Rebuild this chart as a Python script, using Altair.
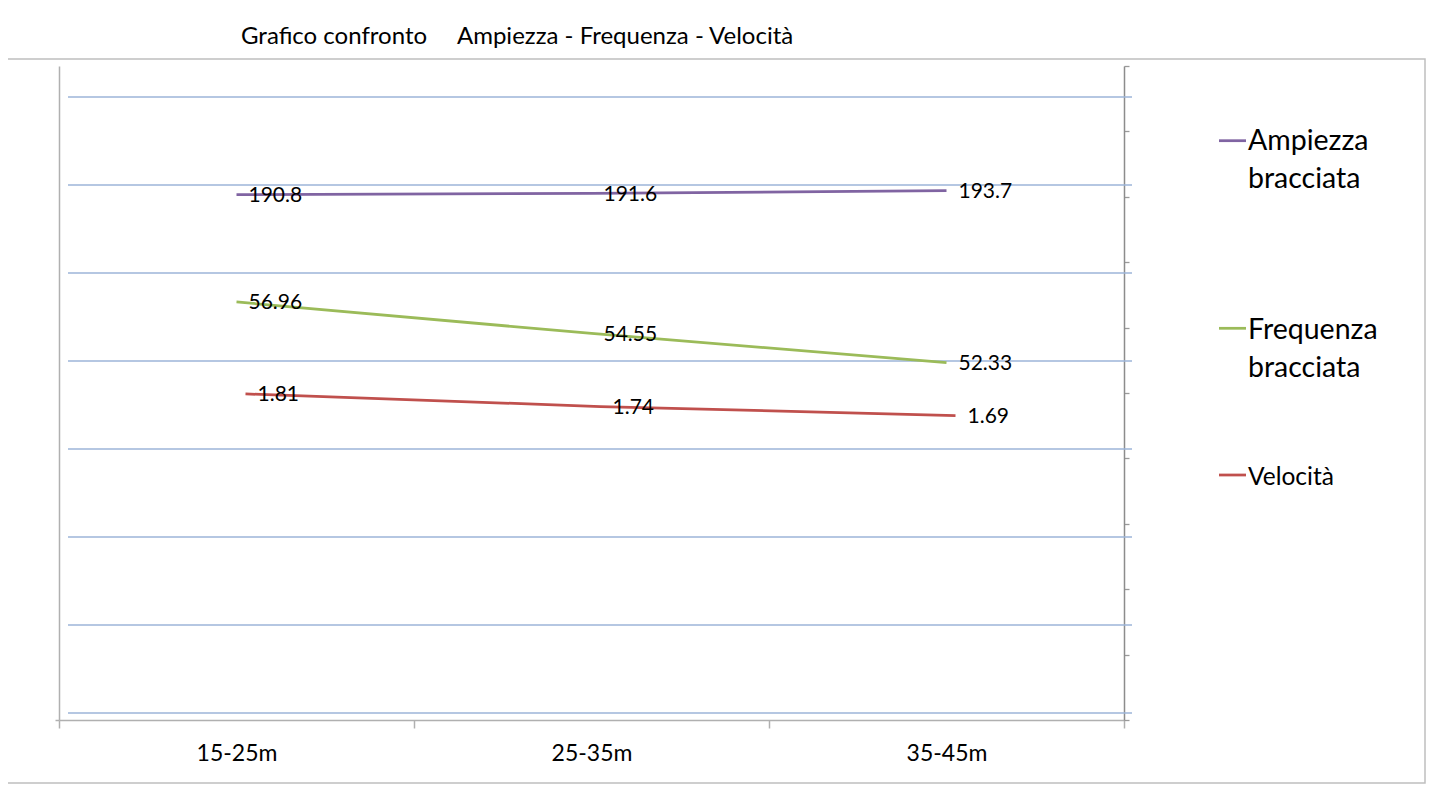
import altair as alt
import pandas as pd

# ---------------- data ----------------
categories = ["15-25m", "25-35m", "35-45m"]
ampiezza = [190.8, 191.6, 193.7]
frequenza = [56.96, 54.55, 52.33]
velocita = [1.81, 1.74, 1.69]
series_names = ["Ampiezza bracciata", "Frequenza bracciata", "Velocità"]
legend_lines = [["Ampiezza", "bracciata"], ["Frequenza", "bracciata"], ["Velocità"]]
title_text = "Grafico confronto\u00a0\u00a0\u00a0\u00a0\u00a0Ampiezza - Frequenza - Velocità"
grid_values = [0, 1, 2, 3, 4, 5, 6, 7]
right_ticks = [0, 1, 2, 3, 4, 5, 6, 7, 8, 9, 10]

# ---------------- layout / style ----------------
W, H = 1065, 654
FONT = "Lato"
PURPLE, GREEN, RED = "#8064A2", "#9BBB59", "#C0504D"
GRID = "#9db5d9"
AXIS = "#b0b0b0"

df = pd.DataFrame({
    "Distanza": categories,
    "Ampiezza": ampiezza,
    "Frequenza": frequenza,
    "Velocita": velocita,
})
one = pd.DataFrame({"k": [0]})

x_enc = alt.X(
    "Distanza:N", sort=categories,
    scale=alt.Scale(type="band", paddingInner=0, paddingOuter=0),
    axis=alt.Axis(title=None, tickBand="extent", tickSize=8, tickColor=AXIS,
                  tickWidth=1.5, domainColor=AXIS, domainWidth=1.5, grid=False,
                  labelFont=FONT, labelFontSize=23, labelColor="black",
                  labelPadding=14, labelAngle=0),
)

# outer frame
frame = alt.Chart(one).mark_rect(fill=None, stroke="#bfbfbf", strokeWidth=1.5).encode(
    x=alt.value(-56), x2=alt.value(1366), y=alt.value(-7), y2=alt.value(717)
)

# gridlines (secondary plot area, shifted slightly)
grid_df = pd.DataFrame({"g": grid_values})
grid = alt.Chart(grid_df).mark_rule(color=GRID, strokeWidth=1.4).encode(
    x=alt.value(9), x2=alt.value(1073),
    y=alt.Y("g:Q", scale=alt.Scale(domain=[-0.08, 7.352], nice=False, zero=False), axis=None),
)

tick_df = pd.DataFrame({"t": right_ticks})
left_axis = alt.Chart(tick_df).mark_point(opacity=0).encode(
    x=alt.value(0),
    y=alt.Y("t:Q", scale=alt.Scale(domain=[0, 10], nice=False),
            axis=alt.Axis(orient="left", values=[0], labels=False, title=None, grid=False,
                          tickSize=4, tickColor=AXIS, tickWidth=1.5,
                          domainColor=AXIS, domainWidth=1.5)),
)
right_axis = alt.Chart(tick_df).mark_point(opacity=0).encode(
    x=alt.value(W),
    y=alt.Y("t:Q", scale=alt.Scale(domain=[0, 10], nice=False),
            axis=alt.Axis(orient="right", values=right_ticks, labels=False, title=None,
                          grid=False, tickSize=5, tickColor="#9a9a9a", tickWidth=1.3,
                          domainColor="#8c8c8c", domainWidth=1.5)),
)


def series(field, color, domain, fmt, xoff):
    base = alt.Chart(df).encode(
        x=x_enc,
        y=alt.Y(f"{field}:Q", scale=alt.Scale(domain=domain, nice=False, zero=False), axis=None),
    )
    line = base.mark_line(color=color, strokeWidth=2.75, xOffset=xoff)
    text = base.mark_text(align="left", baseline="middle", dx=12, dy=1.5, xOffset=xoff,
                          font=FONT, fontSize=21, color="black").encode(
        text=alt.Text(f"{field}:Q", format=fmt))
    return line, text


l_a, t_a = series("Ampiezza", PURPLE, [-190, 284], ".1f", 0)
l_f, t_f = series("Frequenza", GREEN, [25, 75], ".2f", 0)
l_v, t_v = series("Velocita", RED, [0, 3.63], ".2f", 9)

# legend (manual)
def legend_entry(i, color, y_line, y_text, size, lh):
    d = pd.DataFrame({"name": [series_names[i]]})
    sw = alt.Chart(d).mark_rule(color=color, strokeWidth=2.75).encode(
        x=alt.value(1160), x2=alt.value(1187), y=alt.value(y_line))
    tx = alt.Chart(d).mark_text(align="left", baseline="alphabetic", font=FONT,
                                fontSize=size, lineHeight=lh, color="black").encode(
        x=alt.value(1189), y=alt.value(y_text), text=alt.value(legend_lines[i]))
    return sw + tx

leg = (legend_entry(0, PURPLE, 74.7, 84, 28.5, 38)
       + legend_entry(1, GREEN, 262.3, 273, 28.5, 37.5)
       + legend_entry(2, RED, 409, 418.5, 24.5, 30))

title = alt.Chart(one).mark_text(align="left", baseline="middle", font=FONT,
                                 fontSize=24, color="black").encode(
    x=alt.value(182), y=alt.value(-29), text=alt.value(title_text))

chart = alt.layer(
    frame, grid, left_axis, right_axis, l_a, l_f, l_v, t_a, t_f, t_v, leg, title
).resolve_scale(y="independent").properties(
    width=W, height=H,
    autosize=alt.AutoSizeParams(type="none"),
    padding={"left": 51, "top": 58, "right": 306, "bottom": 68},
).configure_view(stroke=None)

chart.save("out.html", embed_options={"renderer": "svg", "actions": False})
